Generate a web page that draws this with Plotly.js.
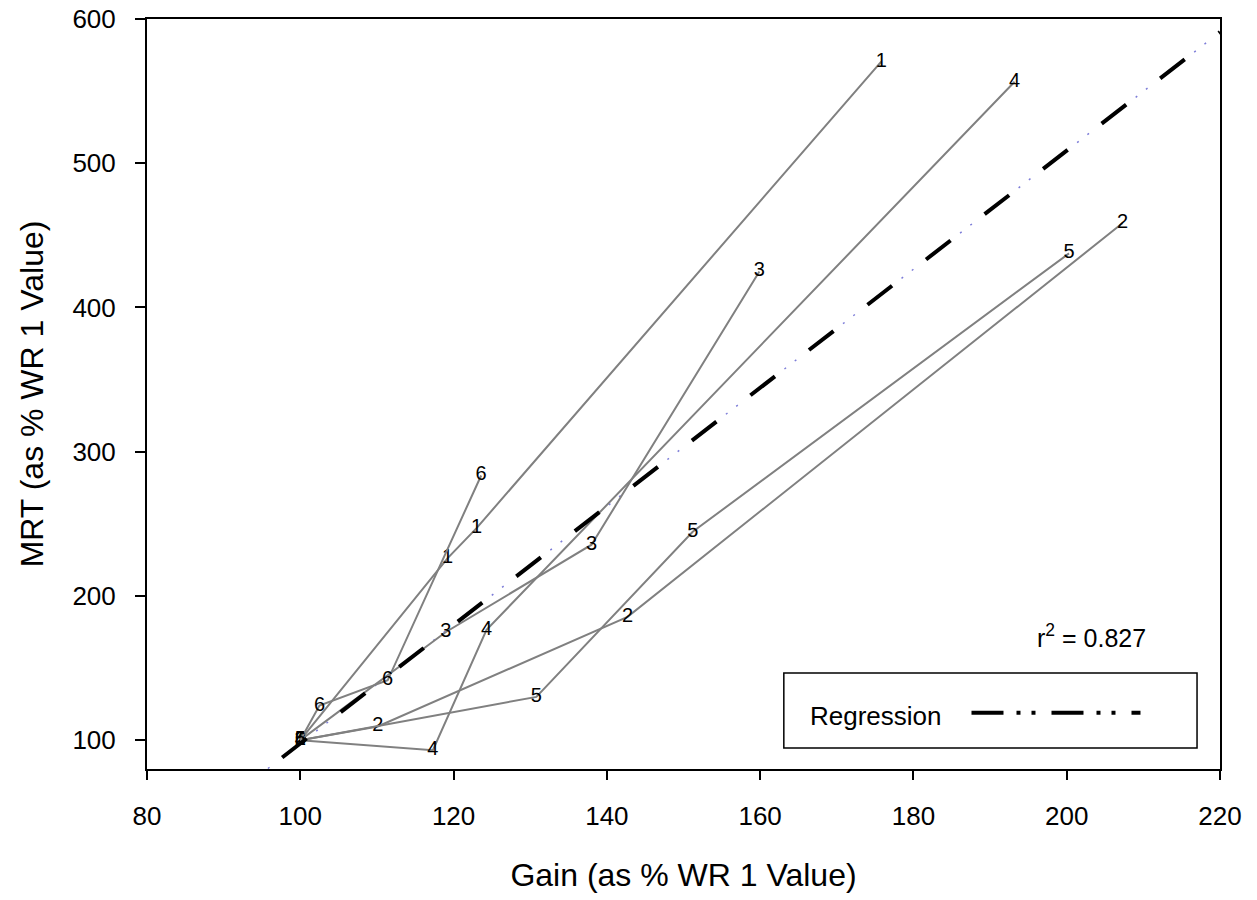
<!DOCTYPE html>
<html>
<head>
<meta charset="utf-8">
<script src="https://cdn.plot.ly/plotly-3.0.1.min.js"></script>
<style>html,body{margin:0;padding:0;background:#fff;}#chart{width:1257px;height:900px;}</style>
</head>
<body>
<div id="chart"></div>
<script>
// Series data (Gain %, MRT %), each series starts at WR 1 = (100, 100)
const seriesNames = ["1", "2", "3", "4", "5", "6"];
const gain1 = [100, 119.2, 123.0, 175.8];
const mrt1  = [100, 226.0, 247.0, 570.5];
const gain2 = [100, 110.1, 142.7, 207.3];
const mrt2  = [100, 109.5, 185.5, 458.5];
const gain3 = [100, 119.0, 138.0, 159.9];
const mrt3  = [100, 175.0, 235.5, 425.0];
const gain4 = [100, 117.3, 124.3, 193.2];
const mrt4  = [100, 93.0, 176.5, 556.5];
const gain5 = [100, 130.8, 151.2, 200.3];
const mrt5  = [100, 130.0, 244.5, 437.5];
const gain6 = [100, 102.5, 111.4, 123.6];
const mrt6  = [100, 124.0, 141.5, 283.5];

// Regression
const regSlope = 4.11;
const regIntercept = -313.3;
const regX = [90, 220];
const rSquared = "0.827";

const xTicks = [80, 100, 120, 140, 160, 180, 200, 220];
const yTicks = [100, 200, 300, 400, 500, 600];

const gains = [gain1, gain2, gain3, gain4, gain5, gain6];
const mrts = [mrt1, mrt2, mrt3, mrt4, mrt5, mrt6];

const FONT = "Liberation Sans, Arial, Helvetica, sans-serif";
const regY = regX.map(v => regSlope * v + regIntercept);
const traces = [];
traces.push({
  x: regX, y: regY, type: "scatter", mode: "lines", name: "Regression dots",
  line: {color: "rgba(70,70,200,0.7)", width: 1.5, dash: "0px,43px,2px,11px,2px,16px"},
  showlegend: false, hoverinfo: "skip"
});
gains.forEach((g, i) => {
  traces.push({
    x: g, y: mrts[i], type: "scatter", mode: "lines+text",
    name: seriesNames[i],
    text: g.map(() => seriesNames[i]),
    textposition: "middle center",
    textfont: {family: FONT, size: 20, color: "#000"},
    line: {color: "rgb(128,128,128)", width: 2},
    showlegend: false, hoverinfo: "x+y"
  });
});
traces.push({
  x: regX, y: regY, type: "scatter", mode: "lines", name: "Regression",
  line: {color: "#000", width: 4, dash: "31px,43px"}, showlegend: false
});

const layout = {
  width: 1257, height: 900,
  margin: {l: 147, r: 37, t: 19, b: 131},
  paper_bgcolor: "#fff", plot_bgcolor: "#fff",
  font: {family: FONT, color: "#000"},
  showlegend: false,
  xaxis: {
    range: [80, 220], tickvals: xTicks, ticktext: xTicks.map(String),
    ticks: "outside", ticklen: 9, tickwidth: 2, tickcolor: "#000",
    showline: true, linecolor: "#000", linewidth: 2, mirror: true,
    showgrid: false, zeroline: false,
    tickfont: {family: FONT, size: 26, color: "#000"},
    ticklabelstandoff: 14,
    title: {text: "Gain (as % WR 1 Value)", font: {family: FONT, size: 32, color: "#000"}, standoff: 33}
  },
  yaxis: {
    range: [80, 600], tickvals: yTicks, ticktext: yTicks.map(String),
    ticks: "outside", ticklen: 10, tickwidth: 2, tickcolor: "#000",
    showline: true, linecolor: "#000", linewidth: 2, mirror: true,
    showgrid: false, zeroline: false,
    tickfont: {family: FONT, size: 26, color: "#000"},
    ticklabelstandoff: 14,
    title: {text: "MRT (as % WR 1 Value)", font: {family: FONT, size: 32, color: "#000"}, standoff: 19}
  },
  shapes: [
    {type: "rect", xref: "paper", yref: "paper", x0: 0.5935, x1: 0.9786, y0: 0.028, y1: 0.128,
     line: {color: "#000", width: 1.5}, fillcolor: "#fff", layer: "above"},
    {type: "line", xref: "paper", yref: "paper", x0: 0.7684, x1: 0.9259, y0: 0.0750, y1: 0.0750,
     line: {color: "#000", width: 4, dash: "32px,13px,4px,11px,4px,16px"}, layer: "above"}
  ],
  annotations: [
    {xref: "paper", yref: "paper", x: 0.6159, y: 0.0707, xanchor: "left", yanchor: "middle",
     text: "Regression", showarrow: false, font: {family: FONT, size: 26, color: "#000"}},
    {xref: "paper", yref: "paper", x: 0.8798, y: 0.1774, xanchor: "center", yanchor: "middle",
     text: "r<sup>2</sup> = " + rSquared, showarrow: false, font: {family: FONT, size: 25, color: "#000"}}
  ]
};

Plotly.newPlot("chart", traces, layout, {displayModeBar: false, staticPlot: true});
</script>
</body>
</html>
